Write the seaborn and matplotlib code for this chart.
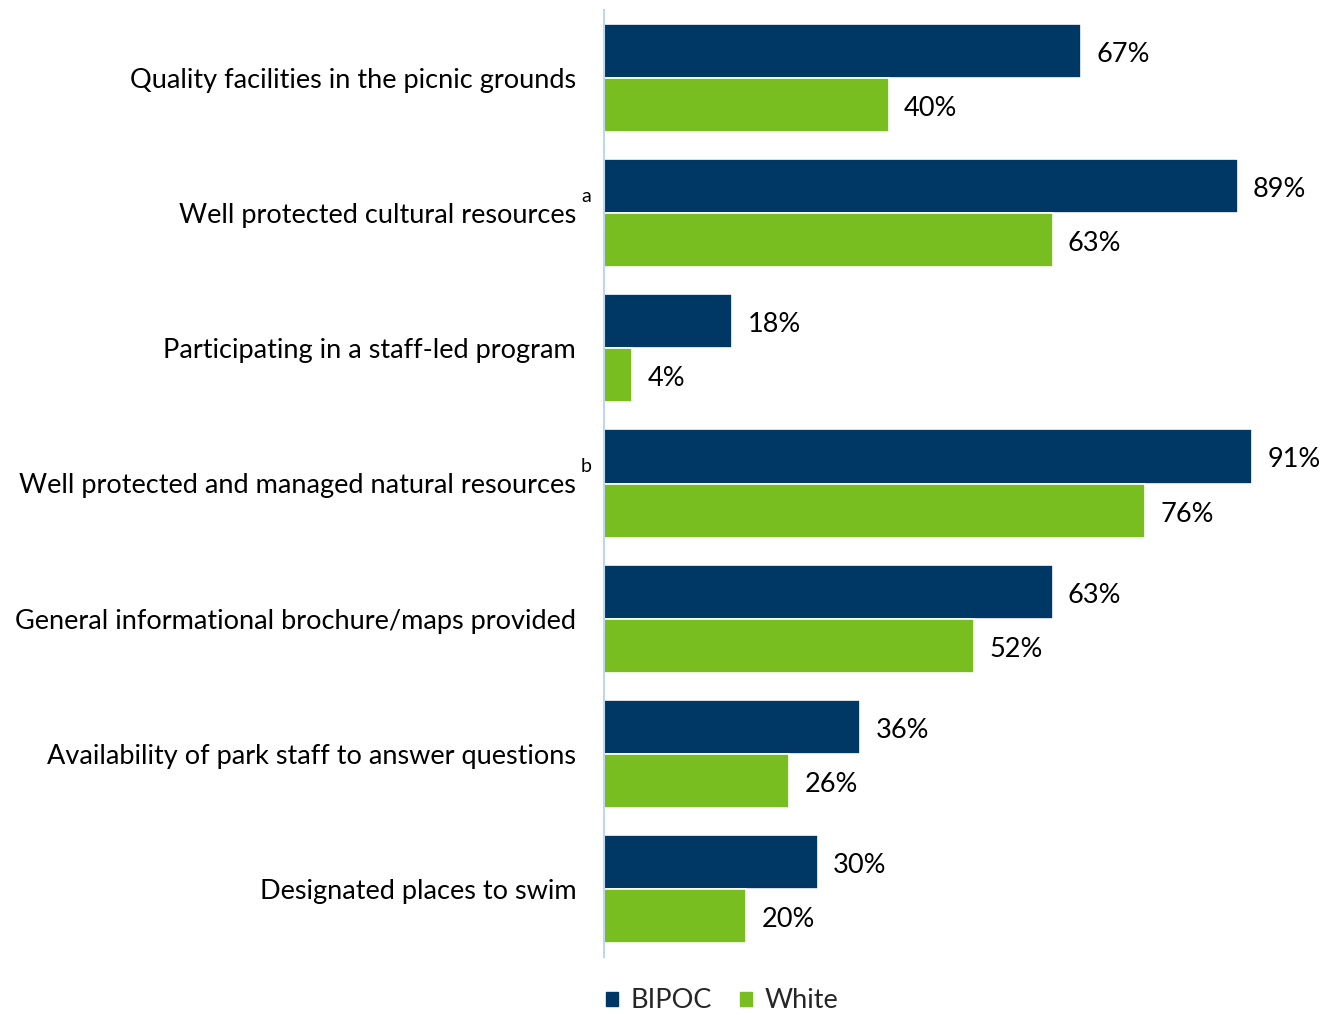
import matplotlib
matplotlib.use("Agg")
import matplotlib.pyplot as plt
import seaborn as sns
import pandas as pd

categories = [
    "Quality facilities in the picnic grounds",
    "Well protected cultural resources",
    "Participating in a staff-led program",
    "Well protected and managed natural resources",
    "General informational brochure/maps provided",
    "Availability of park staff to answer questions",
    "Designated places to swim",
]
footnotes = ["", "a", "", "b", "", "", ""]
bipoc = [67, 89, 18, 91, 63, 36, 30]
white = [40, 63, 4, 76, 52, 26, 20]
groups = ["BIPOC", "White"]
palette = {"BIPOC": "#003865", "White": "#78BE20"}

df = pd.DataFrame({
    "category": categories * 2,
    "group": [groups[0]] * len(categories) + [groups[1]] * len(categories),
    "value": bipoc + white,
})

sns.set_theme(style="white")
plt.rcParams["font.family"] = ["Lato", "DejaVu Sans"]
FS = 19.5

fig = plt.figure(figsize=(13.31, 10.15), dpi=100)
ax = fig.add_axes([604 / 1331, 1 - 957 / 1015, (1316 - 604) / 1331, (957 - 10) / 1015])

sns.barplot(data=df, y="category", x="value", hue="group", order=categories,
            hue_order=groups, palette=palette, orient="h", width=0.8,
            edgecolor="white", linewidth=1.2, saturation=1, ax=ax, legend=False)

ax.set_xlim(0, 100)
ax.set_ylim(len(categories) - 0.5, -0.5)
ax.set_xlabel("")
ax.set_ylabel("")
ax.set_xticks([])
for side in ["top", "right", "bottom"]:
    ax.spines[side].set_visible(False)
ax.spines["left"].set_color("#BDD7EE")
ax.spines["left"].set_linewidth(1.5)
ax.tick_params(axis="y", length=0, pad=20, labelsize=FS, labelcolor="#000000")

# value labels at the end of each bar, nudged slightly below centre
for container in ax.containers:
    texts = ax.bar_label(container, labels=[f"{v:.0f}%" for v in container.datavalues],
                         padding=11, fontsize=FS, color="#000000")
    for t in texts:
        t.xyann = (11, -2.5)

# footnote markers after selected category labels
ytrans = ax.get_yaxis_transform()
for i, mark in enumerate(footnotes):
    if mark:
        ax.annotate(mark, xy=(0, i), xycoords=ytrans, xytext=(-16.5, 12),
                    textcoords="offset points", ha="left", va="center",
                    fontsize=14, color="#000000")

handles = [plt.Rectangle((0, 0), 1, 1, color=palette[g]) for g in groups]
fig.legend(handles, groups, loc="center", bbox_to_anchor=(722 / 1331, 1 - 1001 / 1015),
           ncol=2, frameon=False, fontsize=FS, handlelength=0.45, handleheight=0.45,
           handletextpad=0.45, columnspacing=1.05, borderpad=0.1)

fig.savefig("out.png", dpi=100)
